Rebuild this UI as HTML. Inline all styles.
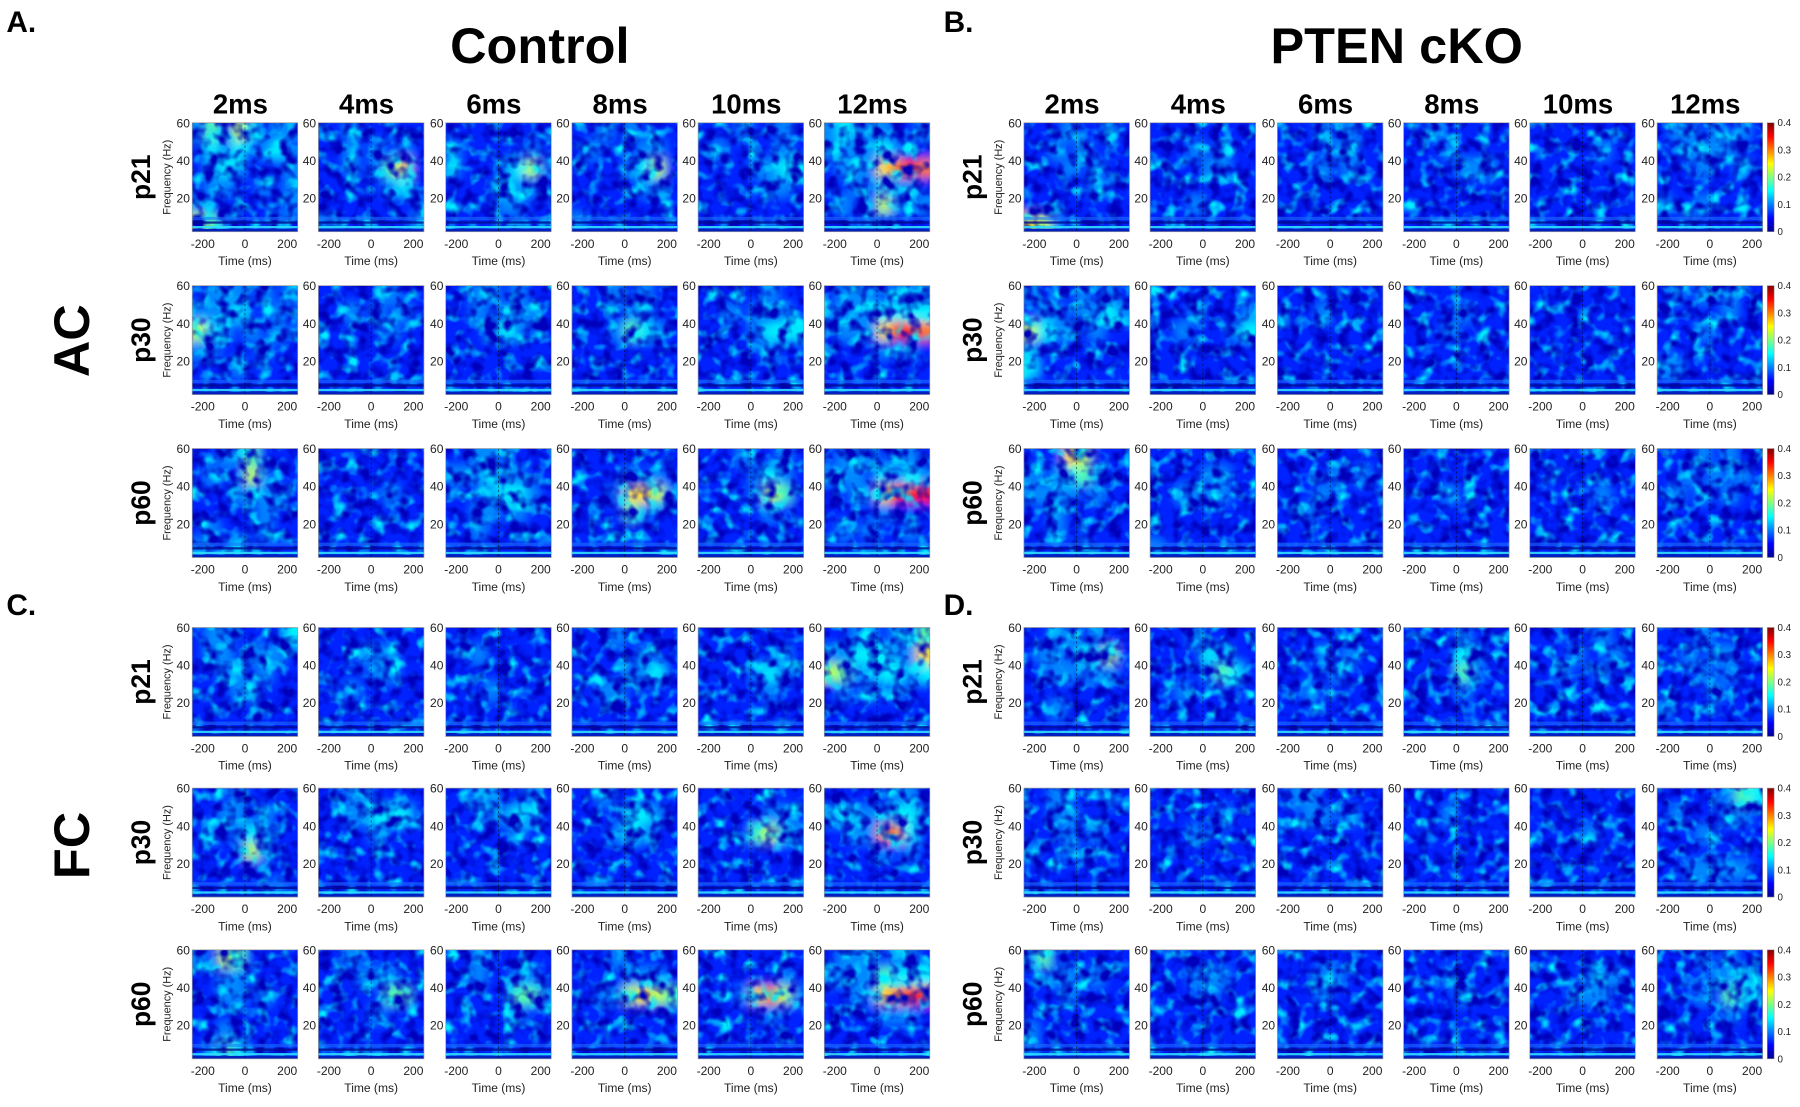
<!DOCTYPE html>
<html><head><meta charset="utf-8"><style>
html,body{margin:0;padding:0;background:#fff;}
svg{display:block;font-family:"Liberation Sans",Arial,sans-serif;}
</style></head><body>
<svg id="fig" width="1800" height="1107" viewBox="0 0 1568 965" xmlns="http://www.w3.org/2000/svg">
<defs>
<filter id="bl" x="-20%" y="-20%" width="140%" height="140%"><feGaussianBlur stdDeviation="4.5"/></filter>
<filter id="texd" x="0" y="0" width="100%" height="100%">
<feTurbulence type="fractalNoise" baseFrequency="0.09" numOctaves="2" seed="3"/>
<feColorMatrix values="0 0 0 0 0  0 0 0 0 0  0 0 0 0 0.5  3.2 0 0 0 -1.38"/>
</filter>
<filter id="texl" x="0" y="0" width="100%" height="100%">
<feTurbulence type="fractalNoise" baseFrequency="0.08" numOctaves="2" seed="11"/>
<feColorMatrix values="0 0 0 0 0  0 0 0 0 0.85  0 0 0 0 1  3 0 0 0 -1.45"/>
</filter>
<linearGradient id="jet" x1="0" y1="1" x2="0" y2="0">
<stop offset="0" stop-color="#00008f"/><stop offset="0.125" stop-color="#0000ff"/><stop offset="0.375" stop-color="#00ffff"/><stop offset="0.625" stop-color="#ffff00"/><stop offset="0.875" stop-color="#ff0000"/><stop offset="1" stop-color="#800000"/>
</linearGradient>
</defs>
<g id="root"></g>
</svg>
<script>
const columns = ["2ms","4ms","6ms","8ms","10ms","12ms"];
const ageRows = ["p21","p30","p60"];
const xTicks = [-200,0,200];
const yTicks = [60,40,20];
const cbTicks = [0,0.1,0.2,0.3,0.4];
// intensity grids (6 freq rows top->bottom, 8 time cols), digit 0-9 ~ 0..0.4 power
const gridA = [
["35264233","24342342","23432223","23322323","32222223","65322232"],
["22322222","22323232","22323572","22222342","22222222","32222223"],
["22222222","32222232","32223463","22224332","22223322","22222222"],
["22323222","23222332","22223462","22222332","22222222","32222222"],
["22232232","23222232","22223344","22222332","22222222","22222222"],
["34333223","33334322","23337898","22324332","23226323","22233222"],
["23332323","33342232","64323232","33222322","22232222","22222222"],
["22222322","22323232","22222322","22222222","22222222","22222222"],
["22332322","22323332","22234322","22222222","22222222","22222222"],
["22232322","22223322","22235432","22222222","22222222","22222222"],
["22222322","22323232","22223444","22222322","22222222","22222222"],
["23332333","33334444","23337998","22223232","22222222","22222222"],
["22335222","23226322","22233332","22222322","23222322","32242222"],
["22222222","22222222","22222322","22222222","22222222","22222222"],
["22332222","33343322","22234432","22332322","22322222","22222222"],
["22222222","22223232","22237763","22225322","22222222","22222222"],
["22232232","22223432","22223652","22222322","22222222","22222222"],
["23332332","33324343","22337999","22223222","23232232","22222222"]];
const gridB = [
["22232232","22323222","22232322","22222322","22222222","76322222"],
["22222222","22232322","22223322","22222222","22232222","22222222"],
["22232322","22223322","22232322","22222222","22222222","22222222"],
["22322222","22232222","22223332","22222222","22222222","22222222"],
["22222222","22222322","22222222","22222222","22222222","22222222"],
["23323232","22333322","22232232","22222222","32232222","22322222"],
["32223232","23323343","64332322","32222222","42222222","22222222"],
["22222222","22232223","22322234","22222222","22222222","22222222"],
["22222222","22232222","22222222","22222222","22222222","22222222"],
["22222222","22223222","22232222","22222222","22222222","22222222"],
["22222222","22222222","22222222","22222222","22222222","22222222"],
["23232322","22222322","22232222","22222222","33222222","22222222"],
["22276222","32345322","33332322","22322222","22322222","22223222"],
["22222222","22223322","22332322","22222222","22222222","32222222"],
["22222222","22223232","22232222","22322222","22222222","22222222"],
["22222222","22222222","22232222","22222222","22222222","22222222"],
["22222222","22222222","22222322","22222222","22222222","22222222"],
["22232322","22323232","23232322","22222222","22222222","22222222"]];
const gridC = [
["23322224","23323332","22332322","22233222","22222222","22222222"],
["22222222","22233322","22223322","22322222","22222222","22222222"],
["22222222","22322222","22222222","22232222","22222222","22222222"],
["22232222","22222322","22223342","22332222","22222222","22222222"],
["22222222","22222232","22223432","22222322","22222222","22222222"],
["22332335","33444337","65334434","23232322","22222222","22222222"],
["22232222","22332322","23234322","22226322","22222222","22222232"],
["22332222","22334442","22223222","22222222","22222222","22222222"],
["22332232","22233432","22222322","22222222","22222222","22222222"],
["22322222","22224432","22234322","22222222","22222222","22222222"],
["22222222","22222332","22225643","22222222","22222222","22222222"],
["22222332","34333443","22338842","22223232","22222222","22222222"],
["32652222","22332222","22332322","22222222","22322222","23542222"],
["22322222","22233322","22222552","22223222","22222222","22222222"],
["22322222","22322332","22222553","22222322","22222222","22222222"],
["22232222","22223332","22336765","22222222","22222222","22222222"],
["22222222","22222232","22237863","22222322","22222222","22222222"],
["23332332","33335444","22337899","22223332","22222222","22222222"]];
const gridD = [
["22332322","23324362","22332332","22222222","22322222","22222222"],
["22232222","22224322","22223542","22322222","22222222","22222222"],
["22222222","22232322","22223222","22322222","22222222","22222222"],
["22223222","22224322","22225322","22223222","22222222","22222222"],
["22222322","22232232","22322322","22222222","22222222","22222222"],
["22232222","22323322","22232322","22223222","32222222","22222222"],
["22322232","22332222","22232322","32232222","22222222","22222222"],
["22222222","22222322","22232222","22222222","22222222","22222222"],
["23322222","22332322","22222222","22222222","22222222","22222222"],
["22222222","22232222","22222222","22222222","22222222","22222222"],
["22222222","22222222","22223222","22222222","22222222","22222222"],
["22222354","23222332","22232222","22222222","22333332","22222222"],
["35222222","22332322","22232222","22222222","32222222","32222222"],
["22222222","22233322","22223222","22222222","22222222","22222222"],
["22222222","22233222","22232222","22222222","22222222","22222222"],
["22222222","22232222","22223222","22222222","22222222","22222222"],
["22222222","22223332","22233322","22222222","22222222","22222222"],
["22232322","22223342","22232542","22222322","22222222","22222222"]];

const NS="http://www.w3.org/2000/svg";
const root=document.getElementById('root');
function el(tag,attrs,parent,text){const e=document.createElementNS(NS,tag);for(const k in attrs)e.setAttribute(k,attrs[k]);if(text!==undefined)e.textContent=text;(parent||root).appendChild(e);return e;}
function jet(t){t=Math.max(0,Math.min(1,t));const c=v=>Math.round(255*Math.max(0,Math.min(1,v)));return `rgb(${c(1.5-Math.abs(4*t-3))},${c(1.5-Math.abs(4*t-2))},${c(1.5-Math.abs(4*t-1))})`;}
const PW=92,PH=95;
const xLeftsL=[167,277,388,498,608,718], xLeftsR=[892,1002,1113,1223,1333,1444];
const yTopsTop=[107,249,391], yTopsBot=[547,687,828];
const tMin=-250,tMax=250,fMin=2,fMax=60;
const xs=(x0,t)=>x0+(t-tMin)/(tMax-tMin)*PW;
const ys=(y0,f)=>y0+(fMax-f)/(fMax-fMin)*PH;
let clipId=0;

function panel(x0,y0,grid,name,firstCol){
  const g=el('g',{});
  
  
  clipId++;
  const cp=el('clipPath',{id:'c'+clipId},g);el('rect',{x:x0,y:y0,width:PW,height:PH},cp);
  const cg=el('g',{'clip-path':`url(#c${clipId})`},g);
  el('rect',{x:x0,y:y0,width:PW,height:PH,fill:jet(0.16)},cg);
  const bg=el('g',{filter:'url(#bl)'},cg);
  const nr=grid.length,nc=grid[0].length,cw=PW/nc,ch=PH/nr;
  for(let r=0;r<nr;r++)for(let c=0;c<nc;c++){
    const v=+grid[r][c];
    let x=x0+c*cw,y=y0+r*ch,w=cw+0.5,h=ch+0.5;
    if(c===0){x-=10;w+=10;} if(c===nc-1)w+=10;
    if(r===0){y-=10;h+=10;} if(r===nr-1)h+=10;
    const cell=el('rect',{x:x,y:y,width:w,height:h,fill:jet(v*0.1-0.04)},bg);
    
    
  }
  el('rect',{x:x0,y:y0,width:PW,height:PH,filter:'url(#texl)'},cg);
  el('rect',{x:x0,y:y0,width:PW,height:PH,filter:'url(#texd)'},cg);
  el('rect',{x:x0,y:y0+PH-13,width:PW,height:3,fill:'#1a70ff',opacity:0.6},cg);
  el('rect',{x:x0,y:y0+PH-9,width:PW,height:2,fill:'#000a90',opacity:0.8},cg);
  el('rect',{x:x0,y:y0+PH-5,width:PW,height:2,fill:'#30e0ff',opacity:0.9},cg);
  el('rect',{x:x0,y:y0+PH-2.5,width:PW,height:2.5,fill:'#0020c0'},cg);
  el('line',{x1:xs(x0,0),x2:xs(x0,0),y1:y0,y2:y0+PH,stroke:'#000','stroke-width':0.7,'stroke-dasharray':'2,2',opacity:0.6},cg);
  el('rect',{x:x0,y:y0,width:PW,height:PH,fill:'none',stroke:'#999','stroke-width':0.6},g);
  for(const t of xTicks){
    const tl=el('text',{x:xs(x0,t),y:y0+PH+14,'font-size':10.5,'text-anchor':'middle',fill:'#222'},g,String(t));
    
    
  }
  const xt=el('text',{x:x0+PW/2,y:y0+PH+29,'font-size':10.5,'text-anchor':'middle',fill:'#222'},g,'Time (ms)');
  
  
  for(const f of yTicks){
    const yl=el('text',{x:x0-2,y:ys(y0,f)+4,'font-size':10.5,'text-anchor':'end',fill:'#222'},g,String(f));
    
    
  }
  if(firstCol){
    const yt=el('text',{transform:`translate(${x0-19},${y0+PH/2}) rotate(-90)`,'font-size':9.5,'text-anchor':'middle',fill:'#222'},g,'Frequency (Hz)');
    
    
  }
}
function colorbar(x,y0){
  const g=el('g',{});
  
  
  el('rect',{x:x,y:y0,width:6,height:PH,fill:'url(#jet)',stroke:'#999','stroke-width':0.5},g);
  for(const v of cbTicks){
    const t=el('text',{x:x+9,y:y0+PH-(v/0.4)*PH+3,'font-size':8.5,fill:'#222'},g,String(v));
    
    
  }
}
const blocks=[[gridA,xLeftsL,yTopsTop,'control-ac',false],[gridB,xLeftsR,yTopsTop,'pten-ac',true],[gridC,xLeftsL,yTopsBot,'control-fc',false],[gridD,xLeftsR,yTopsBot,'pten-fc',true]];
for(const [grid,xl,yt,bn,cb] of blocks){
  for(let r=0;r<3;r++){
    for(let c=0;c<6;c++) panel(xl[c],yt[r],grid[r*6+c],`${bn}-${ageRows[r]}-${columns[c]}-panel`,c===0);
    if(cb) colorbar(1540,yt[r]);
    const rl=el('text',{transform:`translate(${xl[0]-37},${yt[r]+PH/2}) rotate(-90)`,'font-size':23,'font-weight':'bold','text-anchor':'middle'},root,ageRows[r]);
    
    
  }
}
for(const xl of [xLeftsL,xLeftsR]) for(let c=0;c<6;c++){
  const h=el('text',{x:xl[c]+PW/2-4,y:99,'font-size':24,'font-weight':'bold','text-anchor':'middle'},root,columns[c]);
  
  
}
const labels=[["A.",5,28,26,'start','panel-label-a'],["B.",822,28,26,'start','panel-label-b'],["C.",5,536,26,'start','panel-label-c'],["D.",822,536,26,'start','panel-label-d'],["Control",470,55,44,'middle','control-title'],["PTEN cKO",1217,55,44,'middle','pten-title']];
for(const [t,x,y,s,a,n] of labels){
  const e=el('text',{x:x,y:y,'font-size':s,'font-weight':'bold','text-anchor':a},root,t);
  
  
}
for(const [t,y,n] of [["AC",297,'ac-region-label'],["FC",737,'fc-region-label']]){
  const e=el('text',{transform:`translate(77,${y}) rotate(-90)`,'font-size':44,'font-weight':'bold','text-anchor':'middle'},root,t);
  
  
}
</script>
</body></html>
